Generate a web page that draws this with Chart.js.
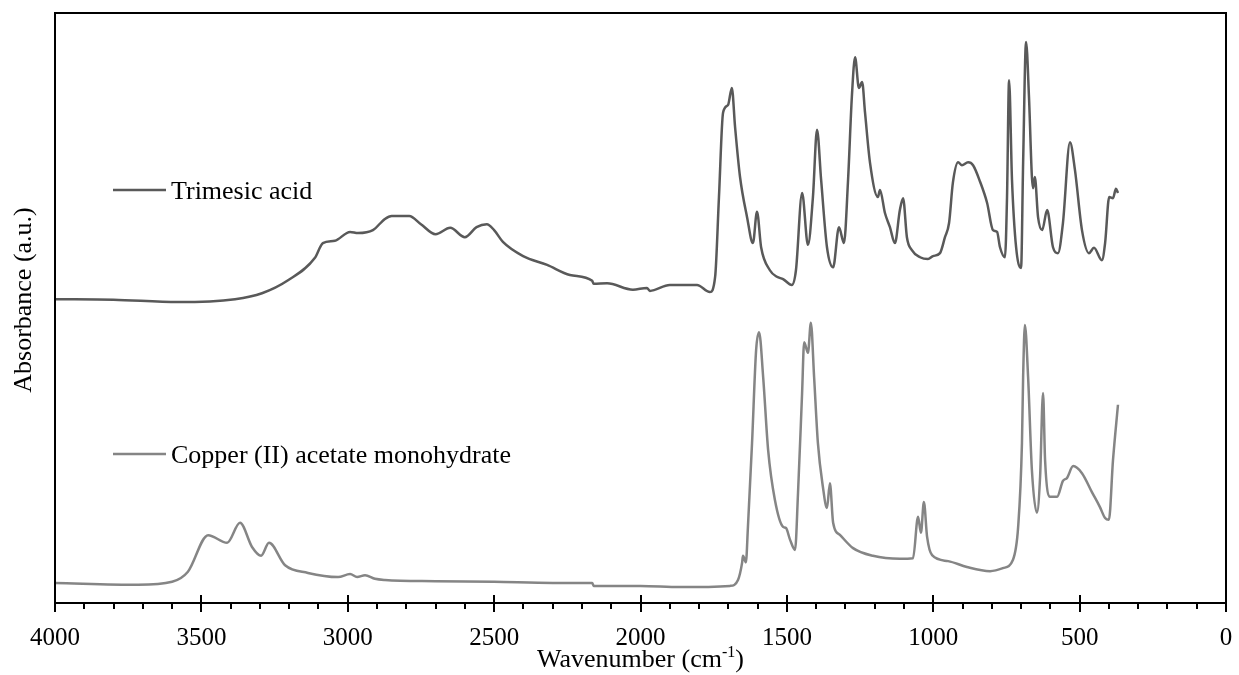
<!DOCTYPE html>
<html>
<head>
<meta charset="utf-8">
<title>FTIR spectra</title>
<script src="https://cdn.jsdelivr.net/npm/chart.js@4.4.1/dist/chart.umd.min.js"></script>
<style>
    html, body { margin: 0; padding: 0; background: #ffffff; }
</style>
</head>
<body>
<canvas id="chartFtir" width="1239" height="675"></canvas>
<script>
const seriesNames = ["Trimesic acid", "Copper (II) acetate monohydrate"];

const xTickValues = [4000, 3500, 3000, 2500, 2000, 1500, 1000, 500, 0];

// trimesic acid spectrum (wavenumber / absorbance, offset upwards)
const trimesicWavenumber = [
    4000, 3800, 3580, 3385, 3293, 3204, 3112, 3085, 3044, 2992, 2965, 2914, 2873, 2850, 2790, 2750,
    2700, 2650, 2600, 2560, 2525, 2500, 2470, 2401, 2319, 2241, 2165, 2160, 2114, 2026, 1978, 1968,
    1900, 1807, 1763, 1745, 1732, 1718, 1701, 1688, 1677, 1660, 1636, 1616, 1602, 1588, 1558, 1534,
    1513, 1483, 1469, 1448, 1428, 1411, 1397, 1383, 1363, 1342, 1322, 1305, 1291, 1278, 1267, 1254,
    1243, 1233, 1216, 1189, 1182, 1165, 1148, 1131, 1114, 1103, 1090, 1073, 1045, 1018, 1001, 977,
    960, 946, 933, 915, 902, 881, 864, 840, 816, 796, 782, 772, 755, 748, 741, 731,
    717, 700, 693, 683, 673, 663, 659, 653, 642, 628, 611, 591, 574, 557, 533, 516,
    492, 468, 451, 424, 413, 399, 386, 376, 369
];
const trimesicAbsorbance = [
    0.515, 0.514, 0.510, 0.515, 0.525, 0.547, 0.585, 0.610, 0.614, 0.629, 0.627, 0.632, 0.651, 0.656, 0.656, 0.642,
    0.625, 0.636, 0.620, 0.637, 0.642, 0.632, 0.612, 0.588, 0.573, 0.556, 0.546, 0.541, 0.542, 0.531, 0.534, 0.529,
    0.539, 0.539, 0.527, 0.553, 0.688, 0.831, 0.844, 0.873, 0.807, 0.722, 0.654, 0.610, 0.663, 0.603, 0.564, 0.553,
    0.549, 0.539, 0.564, 0.695, 0.607, 0.688, 0.802, 0.717, 0.603, 0.569, 0.637, 0.610, 0.717, 0.858, 0.925, 0.873,
    0.883, 0.831, 0.746, 0.688, 0.700, 0.661, 0.637, 0.610, 0.666, 0.686, 0.620, 0.598, 0.586, 0.583, 0.588, 0.593,
    0.620, 0.644, 0.712, 0.747, 0.742, 0.747, 0.742, 0.714, 0.678, 0.632, 0.629, 0.603, 0.586, 0.688, 0.886, 0.717,
    0.603, 0.568, 0.746, 0.951, 0.858, 0.722, 0.703, 0.722, 0.654, 0.632, 0.666, 0.603, 0.593, 0.644, 0.781, 0.734,
    0.632, 0.593, 0.602, 0.581, 0.610, 0.688, 0.686, 0.702, 0.695
];

// copper (II) acetate monohydrate spectrum
const copperWavenumber = [
    4000, 3716, 3600, 3546, 3477, 3412, 3368, 3327, 3296, 3269, 3214, 3136, 3033, 2992, 2968, 2941,
    2907, 2873, 2700, 2500, 2300, 2165, 2160, 2000, 1865, 1694, 1667, 1653, 1650, 1640, 1633, 1619,
    1605, 1595, 1581, 1564, 1541, 1513, 1503, 1489, 1472, 1462, 1448, 1441, 1428, 1418, 1407, 1394,
    1377, 1363, 1353, 1342, 1318, 1274, 1206, 1114, 1069, 1052, 1042, 1032, 1021, 1004, 949, 885,
    806, 762, 728, 710, 697, 693, 687, 676, 663, 646, 635, 625, 618, 601, 577, 557,
    543, 522, 492, 458, 431, 413, 400, 386, 369
];
const copperAbsorbance = [
    0.034, 0.031, 0.036, 0.053, 0.115, 0.102, 0.136, 0.095, 0.080, 0.102, 0.064, 0.051, 0.044, 0.049, 0.044, 0.047,
    0.041, 0.039, 0.037, 0.036, 0.034, 0.034, 0.029, 0.029, 0.027, 0.029, 0.039, 0.068, 0.080, 0.069, 0.129, 0.271,
    0.429, 0.459, 0.383, 0.259, 0.175, 0.129, 0.127, 0.107, 0.090, 0.186, 0.356, 0.442, 0.424, 0.475, 0.383, 0.271,
    0.197, 0.161, 0.203, 0.136, 0.115, 0.093, 0.080, 0.075, 0.076, 0.146, 0.119, 0.171, 0.112, 0.081, 0.071, 0.061,
    0.054, 0.059, 0.073, 0.129, 0.271, 0.383, 0.471, 0.383, 0.225, 0.153, 0.214, 0.356, 0.242, 0.180, 0.180, 0.207,
    0.212, 0.232, 0.220, 0.188, 0.163, 0.144, 0.141, 0.242, 0.336
];

const serif = "'Times New Roman', 'Liberation Serif', serif";

const toPoints = (xs, ys) => xs.map((x, i) => ({ x: x, y: ys[i] }));

// box round the plot, major/minor ticks on the wavenumber axis
const frameAndTicks = {
    id: "frameAndTicks",
    afterDraw(chart) {
        const { ctx, chartArea } = chart;
        const xScale = chart.scales.x;
        ctx.save();
        ctx.strokeStyle = "#000000";
        ctx.lineWidth = 2;
        ctx.strokeRect(chartArea.left, chartArea.top, chartArea.right - chartArea.left, chartArea.bottom - chartArea.top);
        for (let v = 0; v <= 4000; v += 100) {
            const px = Math.round(xScale.getPixelForValue(v));
            const major = v % 500 === 0;
            ctx.beginPath();
            ctx.moveTo(px, major ? chartArea.bottom - 8 : chartArea.bottom);
            ctx.lineTo(px, chartArea.bottom + (major ? 9 : 6));
            ctx.stroke();
        }
        ctx.restore();
    }
};

// legend entries sitting inside the plot, next to each curve
const innerLegend = {
    id: "innerLegend",
    afterDraw(chart) {
        const { ctx, chartArea } = chart;
        const rows = [190, 454];
        ctx.save();
        ctx.font = `26px ${serif}`;
        ctx.textBaseline = "alphabetic";
        chart.data.datasets.forEach((ds, i) => {
            const y = rows[i];
            ctx.strokeStyle = ds.borderColor;
            ctx.lineWidth = 2.5;
            ctx.beginPath();
            ctx.moveTo(chartArea.left + 58, y);
            ctx.lineTo(chartArea.left + 111, y);
            ctx.stroke();
            ctx.fillStyle = "#000000";
            ctx.fillText(ds.label, chartArea.left + 116, y + 9);
        });
        ctx.restore();
    }
};

// axis titles, the x one needs a superscript
const axisTitles = {
    id: "axisTitles",
    afterDraw(chart) {
        const { ctx, chartArea } = chart;
        ctx.save();
        ctx.fillStyle = "#000000";
        ctx.textBaseline = "alphabetic";

        const main = "Wavenumber (cm";
        const sup = "-1";
        const tail = ")";
        ctx.font = `26px ${serif}`;
        const wMain = ctx.measureText(main).width;
        const wTail = ctx.measureText(tail).width;
        ctx.font = `16px ${serif}`;
        const wSup = ctx.measureText(sup).width;
        const cx = (chartArea.left + chartArea.right) / 2;
        let x = cx - (wMain + wSup + wTail) / 2;
        const base = 667;
        ctx.font = `26px ${serif}`;
        ctx.fillText(main, x, base);
        x += wMain;
        ctx.font = `16px ${serif}`;
        ctx.fillText(sup, x, base - 10);
        x += wSup;
        ctx.font = `26px ${serif}`;
        ctx.fillText(tail, x, base);

        ctx.translate(24, (chartArea.top + chartArea.bottom) / 2 - 8);
        ctx.rotate(-Math.PI / 2);
        ctx.textAlign = "center";
        ctx.textBaseline = "middle";
        ctx.fillText("Absorbance (a.u.)", 0, 0);
        ctx.restore();
    }
};

new Chart("chartFtir", {
    type: "line",
    data: {
        datasets: [{
            label: seriesNames[0],
            data: toPoints(trimesicWavenumber, trimesicAbsorbance),
            borderColor: "#595959",
            borderWidth: 2.5,
            pointRadius: 0,
            fill: false,
            cubicInterpolationMode: "monotone"
        }, {
            label: seriesNames[1],
            data: toPoints(copperWavenumber, copperAbsorbance),
            borderColor: "#858585",
            borderWidth: 2.5,
            pointRadius: 0,
            fill: false,
            cubicInterpolationMode: "monotone"
        }]
    },
    options: {
        responsive: false,
        animation: false,
        devicePixelRatio: 1,
        layout: { padding: { left: 55, right: 13, top: 13, bottom: 0 } },
        plugins: {
            legend: { display: false },
            tooltip: { enabled: false }
        },
        scales: {
            x: {
                type: "linear",
                reverse: true,
                min: 0,
                max: 4000,
                grid: { display: false, drawTicks: false },
                border: { display: false },
                afterBuildTicks: (scale) => {
                    scale.ticks = xTickValues.map((v) => ({ value: v }));
                },
                afterFit: (scale) => {
                    // labels at the ends fit inside the page padding already
                    scale.height = 72;
                    scale.paddingLeft = 0;
                    scale.paddingRight = 0;
                },
                ticks: {
                    autoSkip: false,
                    maxRotation: 0,
                    padding: 20,
                    color: "#000000",
                    font: { family: serif, size: 25 },
                    callback: (value) => String(value)
                }
            },
            y: {
                display: false,
                min: 0,
                max: 1
            }
        }
    },
    plugins: [frameAndTicks, innerLegend, axisTitles]
});
</script>
</body>
</html>
